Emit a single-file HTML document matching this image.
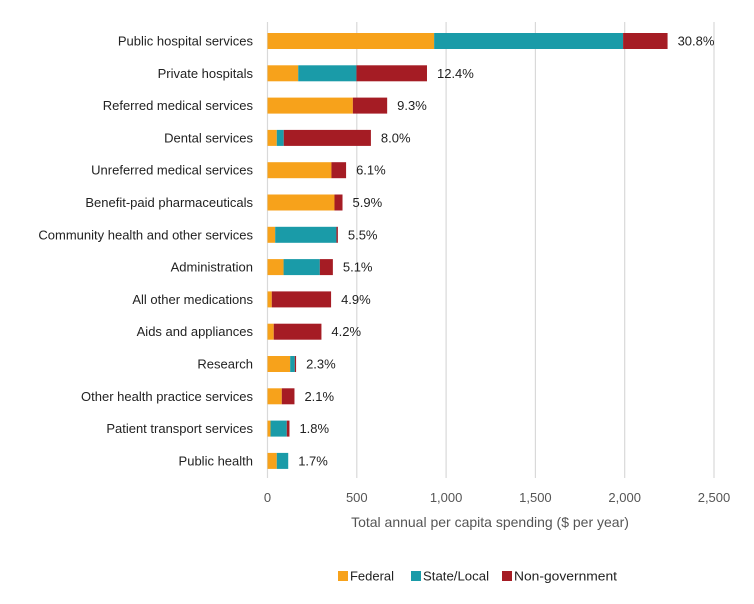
<!DOCTYPE html>
<html><head><meta charset="utf-8"><style>
body{margin:0;background:#fff;font-family:"Liberation Sans",sans-serif;}
svg text{font-family:"Liberation Sans",sans-serif;}
</style></head><body>
<svg id="chart" width="754" height="599"></svg>
<script>
const categories=["Public hospital services","Private hospitals","Referred medical services","Dental services","Unreferred medical services","Benefit-paid pharmaceuticals","Community health and other services","Administration","All other medications","Aids and appliances","Research","Other health practice services","Patient transport services","Public health"];
const federal=[933,172,478,52,358,375,43,90,24,35,127,80,17,52];
const stateLocal=[1058,326,0,39,0,0,343,203,0,0,26,0,91,64];
const nonGov=[249,395,192,488,82,45,8,73,332,267,7,71,15,0];
const shares=["30.8%","12.4%","9.3%","8.0%","6.1%","5.9%","5.5%","5.1%","4.9%","4.2%","2.3%","2.1%","1.8%","1.7%"];
const ticks=[0,500,1000,1500,2000,2500];
const tickLabels=["0","500","1,000","1,500","2,000","2,500"];
const seriesNames=["Federal","State/Local","Non-government"];
const colors=["#F7A21B","#1A9BA8","#A51C24"];

const NS="http://www.w3.org/2000/svg";
const svg=document.getElementById('chart');
const x0=267.5,xScale=446.5/2500,y0=41,step=32.3,bh=16;
const X=v=>x0+v*xScale, Y=i=>y0+i*step;
function mk(tag,attrs,parent){const e=document.createElementNS(NS,tag);for(const k in attrs)e.setAttribute(k,attrs[k]);(parent||svg).appendChild(e);return e;}

ticks.forEach((t,i)=>{
  const g=mk('line',{x1:X(t),x2:X(t),y1:22,y2:478,stroke:'#d9d9d9','stroke-width':1.2});
  
  
  const tl=mk('text',{x:X(t),y:502,'text-anchor':'middle','font-size':13,fill:'#555'});
  tl.textContent=tickLabels[i];
  
  
});
const at=mk('text',{x:490,y:527,'text-anchor':'middle','font-size':14,fill:'#555'});
at.textContent='Total annual per capita spending ($ per year)';



categories.forEach((c,i)=>{
  const y=Y(i);
  const lab=mk('text',{x:253,y:y+4.5,'text-anchor':'end','font-size':13,fill:'#222'});
  lab.textContent=c;
  
  
  let acc=0;
  [federal[i],stateLocal[i],nonGov[i]].forEach((v,s)=>{
    if(v<=0)return;
    const r=mk('rect',{x:X(acc),y:y-bh/2,width:v*xScale,height:bh,fill:colors[s]});
    
    
    acc+=v;
  });
  const vl=mk('text',{x:X(acc)+10,y:y+4.5,'font-size':13,fill:'#222'});
  vl.textContent=shares[i];
  
  
});

const lx=[338,411,502];
const lw=[44,66,103];
seriesNames.forEach((n,s)=>{
  const r=mk('rect',{x:lx[s],y:571,width:10,height:10,fill:colors[s]});
  
  
  const t=mk('text',{x:lx[s]+12,y:580.5,'font-size':13,fill:'#222',textLength:lw[s],lengthAdjust:'spacingAndGlyphs'});
  t.textContent=n;
  
  
});
</script>
</body></html>
